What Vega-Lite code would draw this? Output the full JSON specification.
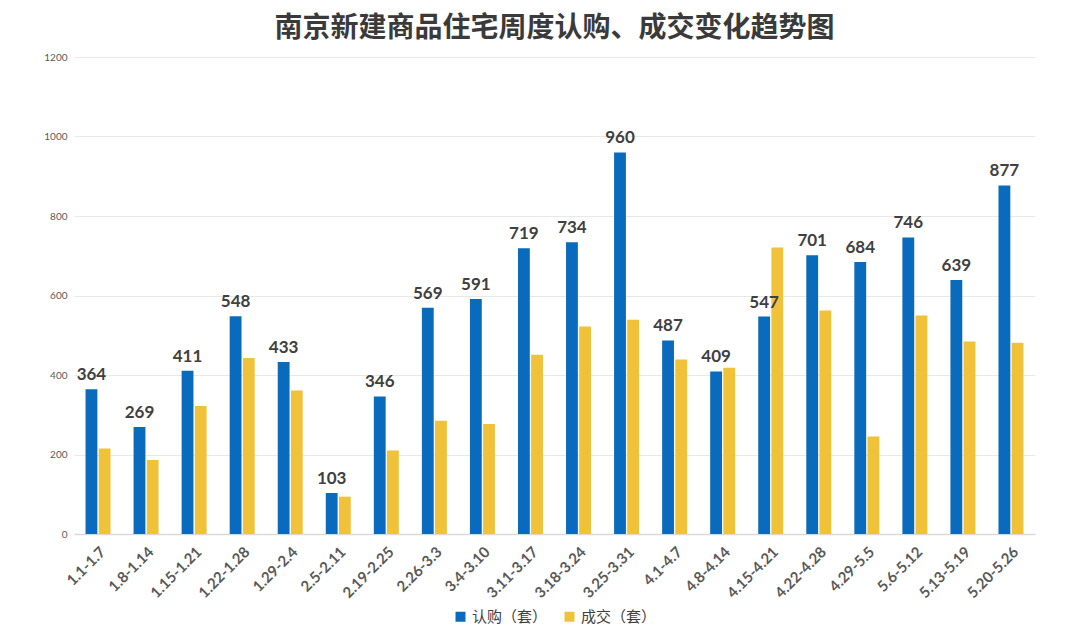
{
  "$schema": "https://vega.github.io/schema/vega-lite/v6.json",
  "width": 961,
  "height": 477,
  "autosize": "none",
  "padding": {"left": 74, "top": 57, "right": 45, "bottom": 103},
  "background": "#ffffff",
  "title": {
    "text": "南京新建商品住宅周度认购、成交变化趋势图",
    "font": "Noto Sans CJK SC",
    "fontSize": 28,
    "fontWeight": "bold",
    "color": "#3a3a3a",
    "anchor": "middle",
    "offset": 9
  },
  "data": {
    "values": [
      {"week": "1.1-1.7", "series": "认购（套）", "value": 364},
      {"week": "1.1-1.7", "series": "成交（套）", "value": 215},
      {"week": "1.8-1.14", "series": "认购（套）", "value": 269},
      {"week": "1.8-1.14", "series": "成交（套）", "value": 186},
      {"week": "1.15-1.21", "series": "认购（套）", "value": 411},
      {"week": "1.15-1.21", "series": "成交（套）", "value": 322},
      {"week": "1.22-1.28", "series": "认购（套）", "value": 548},
      {"week": "1.22-1.28", "series": "成交（套）", "value": 443},
      {"week": "1.29-2.4", "series": "认购（套）", "value": 433},
      {"week": "1.29-2.4", "series": "成交（套）", "value": 361},
      {"week": "2.5-2.11", "series": "认购（套）", "value": 103},
      {"week": "2.5-2.11", "series": "成交（套）", "value": 94},
      {"week": "2.19-2.25", "series": "认购（套）", "value": 346},
      {"week": "2.19-2.25", "series": "成交（套）", "value": 210},
      {"week": "2.26-3.3", "series": "认购（套）", "value": 569},
      {"week": "2.26-3.3", "series": "成交（套）", "value": 285},
      {"week": "3.4-3.10", "series": "认购（套）", "value": 591},
      {"week": "3.4-3.10", "series": "成交（套）", "value": 277},
      {"week": "3.11-3.17", "series": "认购（套）", "value": 719},
      {"week": "3.11-3.17", "series": "成交（套）", "value": 451},
      {"week": "3.18-3.24", "series": "认购（套）", "value": 734},
      {"week": "3.18-3.24", "series": "成交（套）", "value": 522},
      {"week": "3.25-3.31", "series": "认购（套）", "value": 960},
      {"week": "3.25-3.31", "series": "成交（套）", "value": 539},
      {"week": "4.1-4.7", "series": "认购（套）", "value": 487},
      {"week": "4.1-4.7", "series": "成交（套）", "value": 439},
      {"week": "4.8-4.14", "series": "认购（套）", "value": 409},
      {"week": "4.8-4.14", "series": "成交（套）", "value": 418},
      {"week": "4.15-4.21", "series": "认购（套）", "value": 547},
      {"week": "4.15-4.21", "series": "成交（套）", "value": 721},
      {"week": "4.22-4.28", "series": "认购（套）", "value": 701},
      {"week": "4.22-4.28", "series": "成交（套）", "value": 562},
      {"week": "4.29-5.5", "series": "认购（套）", "value": 684},
      {"week": "4.29-5.5", "series": "成交（套）", "value": 245},
      {"week": "5.6-5.12", "series": "认购（套）", "value": 746},
      {"week": "5.6-5.12", "series": "成交（套）", "value": 550},
      {"week": "5.13-5.19", "series": "认购（套）", "value": 639},
      {"week": "5.13-5.19", "series": "成交（套）", "value": 484},
      {"week": "5.20-5.26", "series": "认购（套）", "value": 877},
      {"week": "5.20-5.26", "series": "成交（套）", "value": 481}
    ]
  },
  "encoding": {
    "x": {
      "field": "week",
      "type": "nominal",
      "sort": null,
      "scale": {"paddingInner": 0.48, "paddingOuter": 0.24},
      "axis": {
        "title": null,
        "labelAngle": -45,
        "labelFont": "Lato",
        "labelFontSize": 15,
        "labelFontWeight": "bold",
        "labelColor": "#595959",
        "labelPadding": 10,
        "ticks": false,
        "domainColor": "#d9d9d9",
        "domainWidth": 1.5,
        "grid": false
      }
    },
    "xOffset": {
      "field": "series",
      "type": "nominal",
      "sort": ["认购（套）", "成交（套）"],
      "scale": {"paddingInner": 0.1}
    },
    "y": {
      "field": "value",
      "type": "quantitative",
      "scale": {"domain": [0, 1200], "nice": false},
      "axis": {
        "title": null,
        "values": [0, 200, 400, 600, 800, 1000, 1200],
        "format": "d",
        "labelFont": "Lato",
        "labelFontSize": 10,
        "labelColor": "#595959",
        "labelPadding": 7,
        "domain": false,
        "ticks": false,
        "gridColor": "#e8e8e8",
        "gridWidth": 1
      }
    }
  },
  "layer": [
    {
      "mark": {"type": "bar"},
      "encoding": {
        "color": {
          "field": "series",
          "type": "nominal",
          "sort": ["认购（套）", "成交（套）"],
          "scale": {"domain": ["认购（套）", "成交（套）"], "range": ["#0a6bbd", "#f0c23a"]},
          "legend": {
            "title": null,
            "orient": "bottom",
            "direction": "horizontal",
            "symbolType": "square",
            "symbolSize": 100,
            "symbolStrokeWidth": 0,
            "labelFont": "Noto Sans CJK SC",
            "labelFontSize": 15,
            "labelColor": "#404040",
            "columnPadding": 14,
            "offset": 8
          }
        }
      }
    },
    {
      "transform": [{"filter": {"field": "series", "equal": "认购（套）"}}],
      "mark": {
        "type": "text",
        "font": "Lato",
        "fontSize": 17,
        "fontWeight": "bold",
        "color": "#404040",
        "baseline": "alphabetic",
        "dy": -9
      },
      "encoding": {
        "text": {"field": "value", "type": "quantitative"}
      }
    }
  ],
  "config": {
    "view": {"stroke": null},
    "legend": {"layout": {"bottom": {"anchor": "middle"}}}
  }
}
